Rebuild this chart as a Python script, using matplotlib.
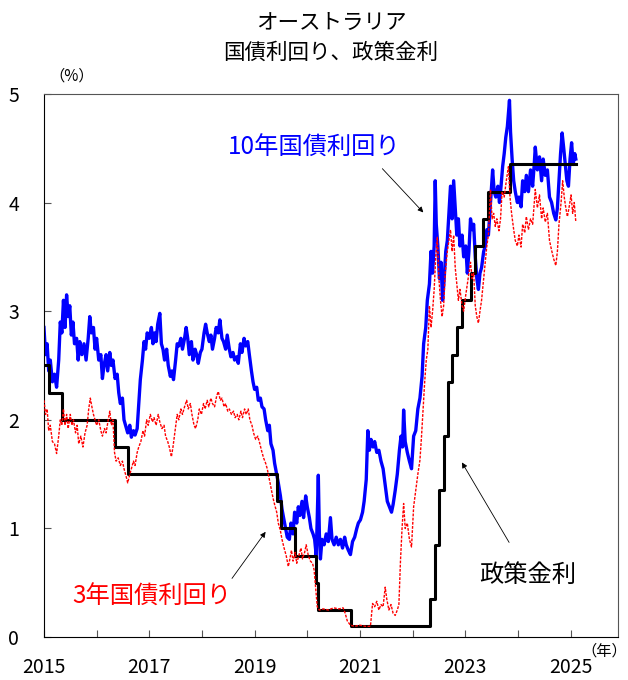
import numpy as np
import matplotlib
matplotlib.use('Agg')
import matplotlib.pyplot as plt

plt.rcParams['font.family'] = ['Noto Sans CJK JP', 'DejaVu Sans']

title = 'オーストラリア\n国債利回り、政策金利'

# 10年国債利回り (decimal year, %)
t10 = [2015.00, 2015.03, 2015.06, 2015.09, 2015.12, 2015.16, 2015.20, 2015.24, 2015.28, 2015.31,
       2015.34, 2015.37, 2015.40, 2015.43, 2015.46, 2015.49, 2015.52, 2015.55, 2015.58, 2015.62,
       2015.65, 2015.68, 2015.72, 2015.76, 2015.80, 2015.84, 2015.87, 2015.90, 2015.94, 2015.97,
       2016.00, 2016.04, 2016.08, 2016.11, 2016.14, 2016.18, 2016.21, 2016.25, 2016.28, 2016.31,
       2016.35, 2016.39, 2016.42, 2016.45, 2016.49, 2016.52, 2016.55, 2016.59, 2016.63, 2016.66,
       2016.70, 2016.73, 2016.77, 2016.80, 2016.83, 2016.87, 2016.90, 2016.93, 2016.96, 2017.00,
       2017.04, 2017.07, 2017.10, 2017.13, 2017.16, 2017.20, 2017.23, 2017.26, 2017.29, 2017.33,
       2017.36, 2017.40, 2017.43, 2017.46, 2017.50, 2017.53, 2017.56, 2017.60, 2017.63, 2017.67,
       2017.70, 2017.73, 2017.76, 2017.80, 2017.83, 2017.87, 2017.90, 2017.93, 2017.97, 2018.00,
       2018.04, 2018.07, 2018.10, 2018.14, 2018.17, 2018.20, 2018.24, 2018.27, 2018.31, 2018.34,
       2018.38, 2018.41, 2018.45, 2018.48, 2018.52, 2018.55, 2018.59, 2018.62, 2018.66, 2018.69,
       2018.73, 2018.76, 2018.80, 2018.83, 2018.87, 2018.90, 2018.94, 2018.97, 2019.00, 2019.04,
       2019.07, 2019.11, 2019.14, 2019.18, 2019.21, 2019.25, 2019.28, 2019.31, 2019.35, 2019.38,
       2019.42, 2019.45, 2019.49, 2019.52, 2019.55, 2019.59, 2019.62, 2019.66, 2019.69, 2019.73,
       2019.76, 2019.80, 2019.83, 2019.86, 2019.90, 2019.93, 2019.97, 2020.00, 2020.04, 2020.07,
       2020.11, 2020.14, 2020.17, 2020.19, 2020.21, 2020.23, 2020.25, 2020.28, 2020.32, 2020.36,
       2020.40, 2020.44, 2020.47, 2020.51, 2020.55, 2020.59, 2020.63, 2020.67, 2020.71, 2020.74,
       2020.78, 2020.82, 2020.86, 2020.90, 2020.94, 2020.97, 2021.01, 2021.05, 2021.08, 2021.12,
       2021.15, 2021.18, 2021.21, 2021.25, 2021.28, 2021.32, 2021.36, 2021.40, 2021.44, 2021.48,
       2021.52, 2021.56, 2021.60, 2021.63, 2021.67, 2021.71, 2021.75, 2021.78, 2021.81, 2021.83,
       2021.86, 2021.90, 2021.94, 2021.98, 2022.02, 2022.06, 2022.10, 2022.14, 2022.18, 2022.21,
       2022.25, 2022.28, 2022.32, 2022.35, 2022.38, 2022.41, 2022.43, 2022.45, 2022.48, 2022.51,
       2022.54, 2022.57, 2022.60, 2022.63, 2022.66, 2022.69, 2022.72, 2022.75, 2022.78, 2022.81,
       2022.84, 2022.87, 2022.90, 2022.94, 2022.97, 2023.01, 2023.04, 2023.07, 2023.10, 2023.13,
       2023.16, 2023.19, 2023.22, 2023.25, 2023.28, 2023.31, 2023.35, 2023.38, 2023.41, 2023.44,
       2023.48, 2023.52, 2023.55, 2023.58, 2023.62, 2023.65, 2023.68, 2023.71, 2023.74, 2023.77,
       2023.80, 2023.84, 2023.86, 2023.89, 2023.92, 2023.95, 2023.99, 2024.02, 2024.06, 2024.09,
       2024.13, 2024.16, 2024.20, 2024.24, 2024.28, 2024.31, 2024.33, 2024.37, 2024.41, 2024.45,
       2024.48, 2024.52, 2024.56, 2024.60, 2024.64, 2024.68, 2024.72, 2024.75, 2024.78, 2024.81,
       2024.84, 2024.87, 2024.90, 2024.93, 2024.96, 2024.99, 2025.02, 2025.05, 2025.08, 2025.10]
y10 = [2.85, 2.60, 2.70, 2.45, 2.55, 2.35, 2.42, 2.30, 2.55, 2.90,
       2.80, 3.10, 2.85, 3.15, 2.95, 3.05, 2.78, 2.90, 2.70, 2.75,
       2.55, 2.72, 2.60, 2.70, 2.55, 2.75, 2.95, 2.80, 2.85, 2.65,
       2.75, 2.55, 2.60, 2.38, 2.50, 2.60, 2.45, 2.62, 2.50, 2.55,
       2.38, 2.42, 2.25, 2.15, 2.20, 2.00, 1.95, 1.88, 1.95, 1.84,
       1.90, 1.86, 1.92, 2.15, 2.37, 2.55, 2.72, 2.65, 2.80, 2.75,
       2.85, 2.70, 2.80, 2.72, 2.88, 2.98, 2.70, 2.65, 2.55, 2.65,
       2.50, 2.40, 2.45, 2.37, 2.55, 2.70, 2.68, 2.75, 2.65, 2.75,
       2.85, 2.75, 2.60, 2.72, 2.55, 2.65, 2.60, 2.52, 2.62, 2.65,
       2.80, 2.88, 2.80, 2.72, 2.78, 2.65, 2.75, 2.85, 2.80, 2.92,
       2.75, 2.72, 2.65, 2.78, 2.65, 2.58, 2.62, 2.55, 2.58, 2.52,
       2.70, 2.62, 2.75, 2.68, 2.72, 2.60, 2.45, 2.35, 2.28, 2.30,
       2.18, 2.20, 2.12, 2.10, 2.00, 1.90, 1.95, 1.78, 1.72, 1.60,
       1.50, 1.42, 1.30, 1.18, 1.10, 1.00, 0.92, 0.90, 1.05, 0.95,
       1.15, 1.05, 1.20, 1.12, 1.25, 1.10, 1.30, 1.20, 1.10, 1.00,
       0.95, 0.90, 0.75, 1.10, 1.49, 0.95, 0.72, 0.90, 0.85, 0.95,
       0.88, 1.10, 0.90, 0.85, 0.92, 0.85, 0.90, 0.82, 0.92, 0.85,
       0.80, 0.76, 0.88, 0.92, 1.00, 1.05, 1.08, 1.15, 1.25, 1.45,
       1.90, 1.72, 1.82, 1.75, 1.80, 1.70, 1.72, 1.62, 1.55, 1.40,
       1.25, 1.20, 1.15, 1.22, 1.35, 1.50, 1.72, 1.85, 1.75, 2.09,
       1.80, 1.70, 1.62, 1.55, 1.85, 1.90, 2.10, 2.20, 2.40, 2.70,
       2.85, 3.10, 3.25, 3.55, 3.35, 3.60, 4.20, 3.80, 3.60, 3.30,
       3.45, 3.10, 3.30, 3.55, 3.65, 3.90, 4.15, 3.85, 4.20, 3.95,
       3.70, 3.85, 3.60, 3.70, 3.50, 3.60, 3.35, 3.55, 3.85, 3.75,
       3.80, 3.50, 3.30, 3.20, 3.35, 3.40, 3.55, 3.60, 3.75, 3.70,
       4.00, 4.30, 4.10, 4.05, 4.15, 4.00, 4.15, 4.33, 4.45, 4.60,
       4.70, 4.94, 4.65, 4.40, 4.20, 4.10, 4.00, 4.05, 3.96, 4.20,
       4.10, 4.25, 4.10, 4.30, 4.15, 4.35, 4.51, 4.30, 4.42, 4.20,
       4.40, 4.25, 4.30, 4.05, 4.00, 3.90, 3.84, 3.95, 4.20, 4.45,
       4.64, 4.50, 4.35, 4.20, 4.15, 4.40, 4.55, 4.35, 4.45, 4.40]

# 3年国債利回り
t3 = [2015.00, 2015.03, 2015.06, 2015.09, 2015.12, 2015.16, 2015.20, 2015.24, 2015.28, 2015.31,
      2015.34, 2015.37, 2015.40, 2015.43, 2015.46, 2015.50, 2015.53, 2015.56, 2015.60, 2015.63,
      2015.66, 2015.70, 2015.74, 2015.78, 2015.82, 2015.85, 2015.88, 2015.91, 2015.94, 2015.97,
      2016.00, 2016.04, 2016.08, 2016.11, 2016.15, 2016.18, 2016.22, 2016.25, 2016.28, 2016.31,
      2016.34, 2016.37, 2016.41, 2016.45, 2016.49, 2016.52, 2016.56, 2016.59, 2016.62, 2016.66,
      2016.70, 2016.73, 2016.77, 2016.80, 2016.84, 2016.88, 2016.91, 2016.95, 2016.98, 2017.02,
      2017.06, 2017.09, 2017.13, 2017.17, 2017.20, 2017.24, 2017.28, 2017.31, 2017.35, 2017.38,
      2017.42, 2017.45, 2017.49, 2017.53, 2017.56, 2017.60, 2017.63, 2017.67, 2017.71, 2017.74,
      2017.78, 2017.81, 2017.85, 2017.88, 2017.92, 2017.95, 2017.99, 2018.03, 2018.06, 2018.10,
      2018.13, 2018.17, 2018.20, 2018.24, 2018.28, 2018.31, 2018.35, 2018.38, 2018.42, 2018.45,
      2018.49, 2018.52, 2018.56, 2018.60, 2018.63, 2018.67, 2018.70, 2018.74, 2018.77, 2018.81,
      2018.84, 2018.88, 2018.91, 2018.95, 2018.98, 2019.02, 2019.06, 2019.10, 2019.13, 2019.17,
      2019.21, 2019.24, 2019.28, 2019.31, 2019.35, 2019.38, 2019.42, 2019.45, 2019.49, 2019.52,
      2019.56, 2019.60, 2019.64, 2019.67, 2019.70, 2019.73, 2019.77, 2019.80, 2019.84, 2019.88,
      2019.91, 2019.95, 2019.98, 2020.02, 2020.06, 2020.10, 2020.13, 2020.16, 2020.19, 2020.23,
      2020.30, 2020.40, 2020.50, 2020.60, 2020.68, 2020.72, 2020.76, 2020.82, 2020.90, 2021.00,
      2021.10, 2021.20, 2021.24, 2021.28, 2021.32, 2021.36, 2021.40, 2021.44, 2021.48, 2021.51,
      2021.55, 2021.59, 2021.63, 2021.67, 2021.71, 2021.74, 2021.77, 2021.80, 2021.83, 2021.86,
      2021.90, 2021.94, 2021.98, 2022.02, 2022.06, 2022.10, 2022.14, 2022.17, 2022.20, 2022.23,
      2022.26, 2022.29, 2022.32, 2022.35, 2022.38, 2022.41, 2022.44, 2022.47, 2022.50, 2022.53,
      2022.56, 2022.59, 2022.62, 2022.66, 2022.69, 2022.72, 2022.75, 2022.78, 2022.81, 2022.84,
      2022.87, 2022.90, 2022.94, 2022.97, 2023.01, 2023.04, 2023.07, 2023.10, 2023.13, 2023.16,
      2023.19, 2023.22, 2023.25, 2023.28, 2023.31, 2023.35, 2023.38, 2023.41, 2023.44, 2023.48,
      2023.51, 2023.54, 2023.57, 2023.60, 2023.64, 2023.67, 2023.70, 2023.74, 2023.78, 2023.82,
      2023.85, 2023.88, 2023.92, 2023.95, 2023.99, 2024.02, 2024.06, 2024.09, 2024.13, 2024.16,
      2024.20, 2024.24, 2024.28, 2024.31, 2024.33, 2024.37, 2024.41, 2024.45, 2024.48, 2024.52,
      2024.56, 2024.60, 2024.64, 2024.68, 2024.72, 2024.75, 2024.78, 2024.82, 2024.85, 2024.88,
      2024.91, 2024.94, 2024.97, 2025.01, 2025.04, 2025.07, 2025.10]
y3 = [2.18, 2.05, 2.10, 1.90, 1.95, 1.80, 1.78, 1.69, 1.85, 2.00,
      1.95, 2.10, 1.95, 2.05, 1.92, 2.05, 1.95, 2.00, 1.88, 1.95,
      1.78, 1.85, 1.75, 1.88, 1.95, 2.10, 2.20, 2.12, 2.05, 2.00,
      1.95, 2.00, 1.90, 1.85, 1.92, 1.88, 2.00, 2.08, 1.95, 2.00,
      1.70, 1.62, 1.65, 1.58, 1.62, 1.55, 1.48, 1.42, 1.48, 1.55,
      1.62, 1.58, 1.70, 1.75, 1.80, 1.90, 1.85, 2.00, 1.95, 2.05,
      1.98, 2.02, 1.95, 2.05, 1.98, 1.92, 1.95, 1.85, 1.80, 1.75,
      1.66, 1.75, 1.90, 2.05, 2.00, 2.10, 2.05, 2.12, 2.18, 2.10,
      2.15, 2.05, 1.95, 1.92, 2.00, 2.10, 2.05, 2.15, 2.10, 2.18,
      2.12, 2.20, 2.15, 2.12, 2.22, 2.26, 2.18, 2.20, 2.12, 2.15,
      2.08, 2.10, 2.05, 2.08, 2.02, 2.05, 2.00, 2.08, 2.02, 2.10,
      2.05, 2.10, 2.00, 1.95, 1.88, 1.82, 1.85, 1.78, 1.72, 1.65,
      1.60, 1.55, 1.45, 1.38, 1.28, 1.22, 1.15, 1.05, 0.98, 0.90,
      0.82, 0.75, 0.65, 0.72, 0.80, 0.70, 0.78, 0.68, 0.75, 0.82,
      0.72, 0.78, 0.85, 0.75, 0.70, 0.68, 0.62, 0.45, 0.28, 0.25,
      0.26, 0.25, 0.27, 0.26, 0.27, 0.22, 0.15, 0.11, 0.10, 0.11,
      0.10, 0.10, 0.31, 0.28, 0.33, 0.25, 0.30, 0.28, 0.46, 0.35,
      0.25, 0.30, 0.22, 0.20, 0.25, 0.30, 0.70, 1.00, 1.23, 1.00,
      1.05, 0.90, 0.83, 1.20, 1.35, 1.50, 1.63, 1.85, 2.10, 2.35,
      2.55, 2.65, 3.05, 2.85, 3.00, 3.20, 3.50, 3.68, 3.30, 3.10,
      2.95, 3.05, 3.35, 3.55, 3.65, 3.75, 3.55, 3.70, 3.40, 3.25,
      3.10, 3.20, 3.05, 3.00, 3.15, 3.25, 3.35, 3.45, 3.30, 3.35,
      3.05, 2.95, 2.89, 3.00, 3.10, 3.30, 3.45, 3.60, 3.70, 4.12,
      3.85, 3.90, 3.78, 3.85, 3.74, 3.85, 4.10, 4.05, 4.20, 4.33,
      4.05, 3.90, 3.75, 3.65, 3.60, 3.70, 3.59, 3.80, 3.72, 3.87,
      3.75, 3.85, 3.80, 4.00, 4.12, 3.95, 4.07, 3.85, 3.95, 3.82,
      3.90, 3.65, 3.56, 3.48, 3.42, 3.55, 3.80, 4.00, 4.20, 4.05,
      3.95, 3.87, 3.95, 4.07, 3.90, 4.00, 3.82]

# 政策金利 (change dates)
t_rate = [2015.00, 2015.09, 2015.34, 2016.34, 2016.59, 2019.42, 2019.51, 2019.76, 2020.17, 2020.21,
          2020.84, 2022.34, 2022.43, 2022.51, 2022.59, 2022.68, 2022.75, 2022.84, 2022.93, 2023.11,
          2023.19, 2023.34, 2023.43, 2023.85, 2025.10]
rate = [2.50, 2.25, 2.00, 1.75, 1.50, 1.25, 1.00, 0.75, 0.50, 0.25,
        0.10, 0.35, 0.85, 1.35, 1.85, 2.35, 2.60, 2.85, 3.10, 3.35,
        3.60, 3.85, 4.10, 4.35, 4.35]

xticks = list(range(2015, 2026))
xticklabels = [str(y) if y % 2 == 1 else '' for y in xticks]

fig = plt.figure(figsize=(6.28, 6.80), dpi=100)
ax = fig.add_axes([0.070, 0.063, 0.914, 0.799])

ax.plot(t10, y10, color='#0000FF', lw=2.4, zorder=2)
ax.step(t_rate, rate, where='post', color='black', lw=2.2, zorder=3)
ax.plot(t3, y3, color='#FF0000', lw=1.0, ls=(0, (2, 1)), zorder=4)

ax.set_xlim(2015, 2025.9)
ax.set_ylim(0, 5)
ax.set_xticks(xticks)
ax.set_xticklabels(xticklabels)
ax.set_yticks(range(0, 6))
ax.tick_params(direction='in', length=5, color='#555555', labelsize=14)
ax.tick_params(axis='x', pad=14)
ax.tick_params(axis='y', pad=18)
for s in ['top', 'right']:
    ax.spines[s].set_color('#555555')

fig.suptitle(title, fontsize=15.5, y=0.982, x=0.527, linespacing=1.45)
ax.text(0.01, 1.018, '（%）', transform=ax.transAxes, fontsize=11, va='bottom')
fig.text(0.998, 0.043, '（年）', fontsize=11, ha='right', va='center')

ax.text(2020.13, 4.5, '10年国債利回り', color='#0000FF', fontsize=17.5, ha='center', va='center')
ax.annotate('', xy=(2022.24, 3.89), xytext=(2021.39, 4.33),
            arrowprops=dict(arrowstyle='-|>', color='black', lw=0.6, mutation_scale=8))
ax.text(2017.05, 0.37, '3年国債利回り', color='#FF0000', fontsize=17.5, ha='center', va='center')
ax.annotate('', xy=(2019.24, 0.99), xytext=(2018.54, 0.52),
            arrowprops=dict(arrowstyle='-|>', color='black', lw=0.6, mutation_scale=8))
ax.text(2024.18, 0.57, '政策金利', color='black', fontsize=17.5, ha='center', va='center')
ax.annotate('', xy=(2022.91, 1.63), xytext=(2023.86, 0.85),
            arrowprops=dict(arrowstyle='-|>', color='black', lw=0.6, mutation_scale=8))

fig.savefig('out.png', dpi=100)
